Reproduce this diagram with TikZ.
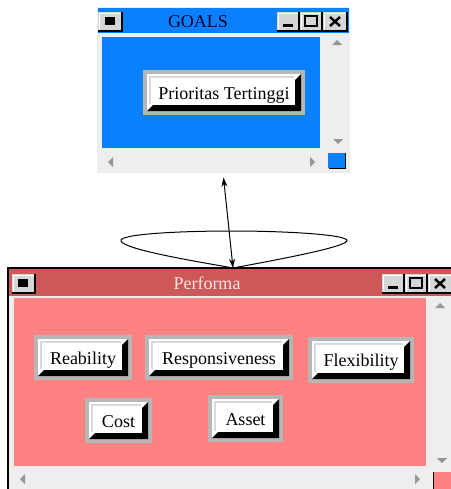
\documentclass[tikz,border=0pt]{standalone}
\usepackage{fontspec}
\setmainfont{Liberation Serif}
\usetikzlibrary{arrows.meta}

\definecolor{goalblue}{RGB}{10,128,255}
\definecolor{perfred}{RGB}{205,88,88}
\definecolor{perfpink}{RGB}{255,130,130}
\definecolor{wingray}{RGB}{238,238,238}
\definecolor{knopgray}{RGB}{182,182,182}
\definecolor{facegray}{RGB}{214,214,214}
\definecolor{glyphgray}{RGB}{150,150,150}

\tikzset{every picture/.style={line width=0.75pt}}
\tikzset{
  wintext/.style={inner sep=0.75pt, anchor=base, font=\fontsize{13.5}{16}\selectfont},
  btnlabel/.style={wintext, text=black},
  glyph/.style={fill=glyphgray},
  conn/.style={{Stealth[length=7pt,width=4.5pt]}-{Stealth[length=7pt,width=4.5pt]}},
}

% raised label button: name, left, top, right, bottom, text
\newcommand{\knop}[6]{%
  \fill[knopgray] (#2,#3) rectangle (#4,#5);
  \fill[white] (#2+4,#3+4) rectangle (#4-4,#5-4);
  \fill[black] (#2+4,#5-4) -- (#4-4,#5-4) -- (#4-4,#3+4) -- (#4-10,#3+10) -- (#4-10,#5-10) -- (#2+10,#5-10) -- cycle;
  \draw[gray!30, line width=1.5pt] (#2+7,#5-11) -- (#2+7,#3+7) -- (#4-11,#3+7);
  \node[btnlabel] (#1) at ({(#2+#4)/2},{(#3+#5)/2+6.5}) {#6};
}
% small title bar button
\newcommand{\tbtn}[4]{%
  \fill[facegray] (#1,#2) rectangle (#3,#4);
  \draw[white] (#1+1,#4-1) -- (#1+1,#2+1) -- (#3-1,#2+1);
  \draw[black, line width=1.5pt] (#1,#4) -- (#3,#4) -- (#3,#2);
}

\begin{document}
\begin{tikzpicture}[x=0.75pt,y=0.75pt,yscale=-1,xscale=1]
	\useasboundingbox (0,0) rectangle (450,489);
	\fill[white] (0,0) rectangle (450,489);

	% GOALS window
	\fill[wingray] (97,7) rectangle (349,172);
	\draw[gray!15] (97,7) rectangle (349,172);
	\fill[goalblue] (98,8) rectangle (349,33);
	\fill[goalblue] (102,37) rectangle (320,148);
	\node (goalswin) [inner sep=0, minimum width=189pt, minimum height=123.75pt] at (223,89.5) {};
	\tbtn{98}{12}{122}{31}
	\fill (105,17) rectangle (115,25);
	\tbtn{277}{12}{299}{31}
	\fill (283,24) rectangle (293,27);
	\tbtn{300}{12}{322}{31}
	\draw[line width=1.5pt] (305,16) rectangle (317,26);
	\tbtn{323}{12}{347}{31}
	\draw[line width=1.8pt] (330,17) -- (340,26) (330,26) -- (340,17);
	\node[wintext, text={rgb,255:red,0;green,0;blue,40}] (goalstitle) at (198,27) {GOALS};
	% scroll arrows and corner
	\fill[glyph] (337,40) -- (342,45) -- (332,45) -- cycle;
	\fill[glyph] (338,144) -- (343,139) -- (333,139) -- cycle;
	\fill[glyph] (108,162) -- (113,157) -- (113,167) -- cycle;
	\fill[glyph] (315,162) -- (310,157) -- (310,167) -- cycle;
	\fill[goalblue] (328,153) rectangle (345,168);
	\draw (329,168) -- (345,168) -- (345,153);

	\knop{prioritas}{143}{70}{305}{115}{Prioritas Tertinggi}

	% Performa window
	\fill[wingray] (8,268) rectangle (452,491);
	\fill[perfred] (9,269) rectangle (452,296);
	\fill[perfpink] (14,298) rectangle (426,466);
	\draw[black, line width=1.5pt] (8,491) -- (8,268) -- (452,268);
	\node (perfwin) [inner sep=0, minimum width=333pt, minimum height=167.25pt] at (230,379.5) {};
	\coordinate (perftop) at (233,268);
	\tbtn{12}{274}{35}{293}
	\fill (18,279) rectangle (28,287);
	\tbtn{382}{274}{404}{293}
	\fill (388,286) rectangle (398,289);
	\tbtn{405}{274}{427}{293}
	\draw[line width=1.5pt] (410,278) rectangle (422,288);
	\tbtn{428}{274}{452}{293}
	\draw[line width=1.8pt] (435,279) -- (445,288) (435,288) -- (445,279);
	\node[wintext, text={rgb,255:red,255;green,228;blue,228}] (perftitle) at (207,289) {Performa};
	% scroll arrows and corner
	\fill[glyph] (440,303) -- (445,308) -- (435,308) -- cycle;
	\fill[glyph] (442,463) -- (447,458) -- (437,458) -- cycle;
	\fill[glyph] (20,479) -- (25,474) -- (25,484) -- cycle;
	\fill[glyph] (420,479) -- (415,474) -- (415,484) -- cycle;
	\fill[perfpink] (433,472) rectangle (452,491);
	\draw (433,472) -- (433,491);

	\knop{reability}{34}{335}{132}{380}{Reability}
	\knop{responsiveness}{145}{335}{293}{380}{Responsiveness}
	\knop{flexibility}{308}{337}{414}{383}{Flexibility}
	\knop{cost}{85}{398}{152}{443}{Cost}
	\knop{asset}{208}{395}{283}{442}{Asset}

	% link between the windows and the loop on Performa
	\draw[conn, shorten <=3.75pt] (goalswin.south) -- (perftop);
	\draw (perftop) .. controls (200,262) and (125,250) .. (121,241) .. controls (118,234) and (180,231) .. (232,231) .. controls (290,231) and (350,235) .. (347,241) .. controls (343,248) and (265,262) .. (perftop);
\end{tikzpicture}
\end{document}
